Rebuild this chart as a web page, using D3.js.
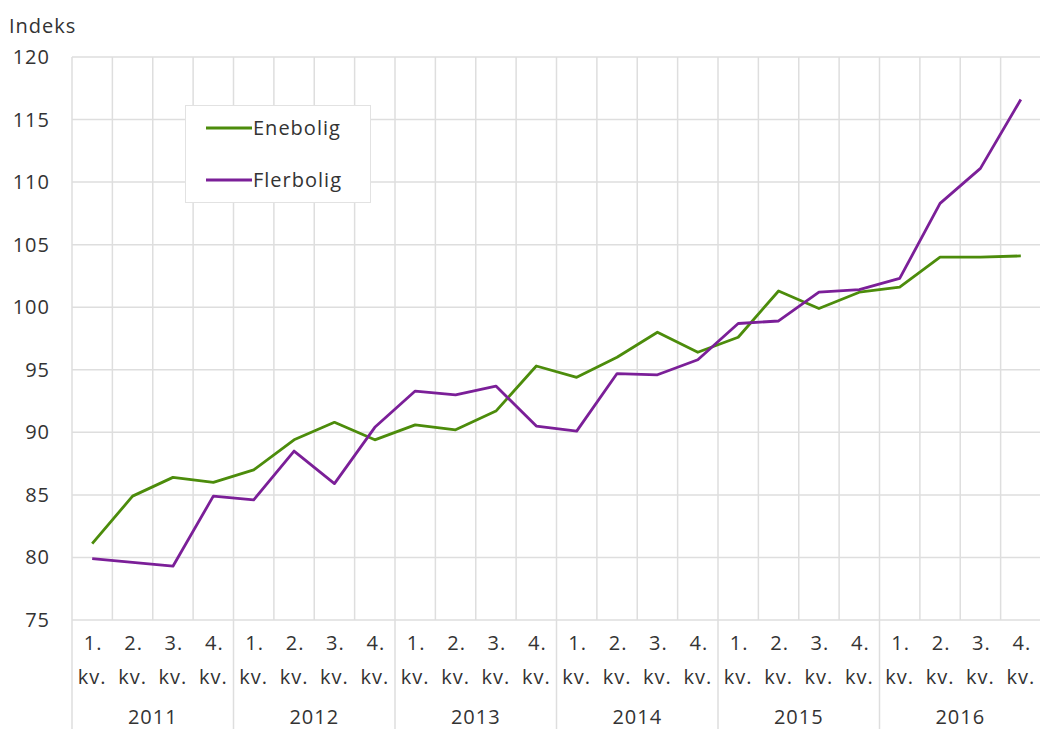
<!DOCTYPE html>
<html>
<head>
<meta charset="utf-8">
<script src="https://cdn.jsdelivr.net/npm/d3@7"></script>
<style>
  body { margin: 0; background: #fff; }
  text { font-family: "Open Sans", sans-serif; fill: #333; font-size: 20px; letter-spacing: 1px; }
</style>
</head>
<body>
<div id="chart"></div>
<script>
var years = ["2011", "2012", "2013", "2014", "2015", "2016"];
var quarters = ["1.", "2.", "3.", "4."];
var yTicks = [75, 80, 85, 90, 95, 100, 105, 110, 115, 120];

var enebolig = [81.1, 84.9, 86.4, 86.0, 87.0, 89.4, 90.8, 89.4, 90.6, 90.2, 91.7, 95.3,
  94.4, 96.0, 98.0, 96.4, 97.6, 101.3, 99.9, 101.2, 101.6, 104.0, 104.0, 104.1];
var flerbolig = [79.9, 79.6, 79.3, 84.9, 84.6, 88.5, 85.9, 90.4, 93.3, 93.0, 93.7, 90.5,
  90.1, 94.7, 94.6, 95.8, 98.7, 98.9, 101.2, 101.4, 102.3, 108.3, 111.1, 116.6];

var seriesNames = ["Enebolig", "Flerbolig"];
var seriesColors = ["#4c8c0b", "#7b1f98"];

var width = 1040, height = 729;
var margin = { top: 57, right: -1, bottom: 109, left: 72 };

var svg = d3.select("#chart").append("svg")
  .attr("width", width)
  .attr("height", height);

// one slot per quarter
var keys = [];
years.forEach(function (yr) {
  quarters.forEach(function (q) { keys.push(yr + "-" + q); });
});

var x = d3.scaleBand()
  .domain(keys)
  .range([margin.left, width - margin.right])
  .paddingInner(0)
  .paddingOuter(0);

var y = d3.scaleLinear()
  .domain([75, 120])
  .range([height - margin.bottom, margin.top]);

var gridColor = "#dedede";

// horizontal grid
svg.append("g")
  .selectAll("line")
  .data(yTicks)
  .join("line")
  .attr("x1", margin.left)
  .attr("x2", width)
  .attr("y1", (d) => y(d))
  .attr("y2", (d) => y(d))
  .attr("stroke", gridColor)
  .attr("stroke-width", 1.5);

// vertical grid: quarter borders in plot, year borders down to bottom
svg.append("g")
  .selectAll("line")
  .data(keys)
  .join("line")
  .attr("x1", (d) => x(d))
  .attr("x2", (d) => x(d))
  .attr("y1", margin.top)
  .attr("y2", (d, i) => (i % 4 == 0 ? height : y(75)))
  .attr("stroke", gridColor)
  .attr("stroke-width", 1.5);

// y tick labels
svg.append("g")
  .selectAll("text")
  .data(yTicks)
  .join("text")
  .attr("x", 50)
  .attr("y", (d) => y(d) + 7)
  .attr("text-anchor", "end")
  .text((d) => d);

svg.append("text")
  .attr("x", 9)
  .attr("y", 33)
  .text("Indeks");

// x labels
var xl = svg.append("g");
xl.selectAll("text.q")
  .data(keys)
  .join("text")
  .attr("class", "q")
  .attr("x", (d) => x(d) + x.bandwidth() / 2 + 1)
  .attr("y", 650)
  .attr("text-anchor", "middle")
  .text((d) => d.split("-")[1]);

xl.selectAll("text.kv")
  .data(keys)
  .join("text")
  .attr("class", "kv")
  .attr("x", (d) => x(d) + x.bandwidth() / 2)
  .attr("y", 684)
  .attr("text-anchor", "middle")
  .text("kv.");

xl.selectAll("text.yr")
  .data(years)
  .join("text")
  .attr("class", "yr")
  .attr("x", (d) => x(d + "-1.") + x.bandwidth() * 2)
  .attr("y", 724)
  .attr("text-anchor", "middle")
  .text((d) => d);

// lines
var line = d3.line()
  .x((d, i) => x(keys[i]) + x.bandwidth() / 2)
  .y((d) => y(d));

[enebolig, flerbolig].forEach(function (vals, s) {
  svg.append("path")
    .datum(vals)
    .attr("fill", "none")
    .attr("stroke", seriesColors[s])
    .attr("stroke-width", 2.8)
    .attr("stroke-linejoin", "round")
    .attr("d", line);
});

// legend
var legend = svg.append("g");
legend.append("rect")
  .attr("x", 185.5)
  .attr("y", 105.5)
  .attr("width", 185)
  .attr("height", 97)
  .attr("fill", "#fff")
  .attr("stroke", "#e2e2e2")
  .attr("stroke-width", 1);

seriesNames.forEach(function (name, i) {
  var ly = 128 + i * 52;
  legend.append("line")
    .attr("x1", 206)
    .attr("x2", 252)
    .attr("y1", ly)
    .attr("y2", ly)
    .attr("stroke", seriesColors[i])
    .attr("stroke-width", 2.8);
  legend.append("text")
    .attr("x", 253)
    .attr("y", ly + 7)
    .text(name);
});
</script>
</body>
</html>
